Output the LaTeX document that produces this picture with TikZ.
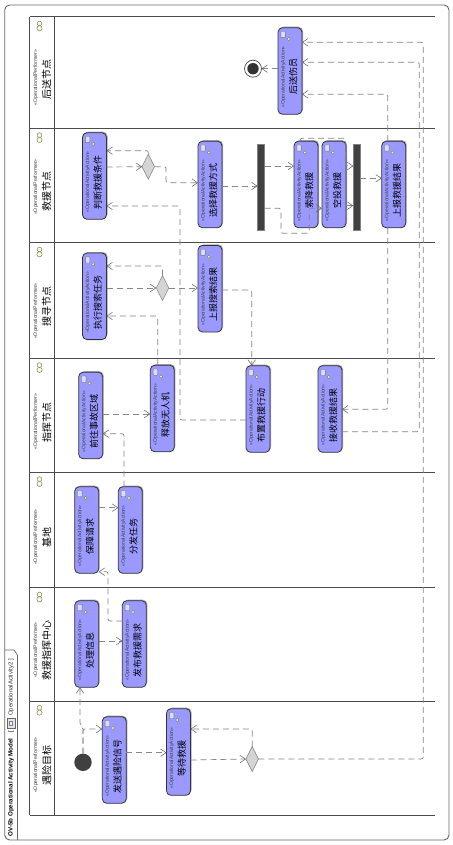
\documentclass[tikz,border=0pt]{standalone}
\usepackage{fontspec}
\setmainfont{Liberation Sans}
\newfontfamily\cjk{Noto Sans CJK SC}
\usetikzlibrary{arrows.meta,shapes.geometric,shadows}
\definecolor{actfill}{HTML}{9999FF}
\definecolor{edgegray}{HTML}{858585}
\tikzset{
  x=1pt,y=-1pt,
  actbox/.style={draw=black!80,line width=.8pt,fill=actfill,rounded corners=4.5pt,minimum width=24pt,minimum height=86.6pt,inner sep=0pt,outer sep=0pt,
     general shadow={fill=black!35,shadow xshift=1pt,shadow yshift=1pt}},
  stereo/.style={rotate=90,font=\fontsize{5}{6}\selectfont,text=black!75,inner sep=0pt},
  actname/.style={rotate=90,font=\cjk\fontsize{9}{10}\selectfont,inner sep=0pt},
  lanest/.style={rotate=90,font=\fontsize{5.2}{6}\selectfont,text=black!75,inner sep=0pt},
  lanename/.style={rotate=90,font=\cjk\fontsize{10}{12}\selectfont,inner sep=0pt},
  laneline/.style={draw=black!70,line width=.9pt},
  flow/.style={draw=edgegray,line width=.7pt,dash pattern=on 6pt off 4pt,rounded corners=2pt,
     arrows={-{Straight Barb[length=5.5pt,width=7.5pt,line width=.55pt,color=black!60]}}},
  dec/.style={diamond,shape aspect=.5,draw=black!45,fill=black!17,line width=.6pt,minimum width=12.5pt,minimum height=25pt,inner sep=0pt,outer sep=0pt},
  forkbar/.style={draw=black!50,fill=black!75,line width=.5pt,minimum width=7pt,minimum height=85.7pt,inner sep=0pt,outer sep=0pt},
}
\newcommand{\actnode}[4]{%
  \node[actbox] (#1) at (#2,#3) {};
  \node[stereo] (#1-st) at ([xshift=-6.7pt,yshift=-6pt]#1.center) {«OperationalActivityAction»};
  \node[actname] (#1-nm) at ([xshift=3.2pt,yshift=-6pt]#1.center) {#4};
  \begin{scope}[shift={(#1.north west)}]
    \draw[black!55,fill=actfill!35!white,line width=.4pt,rounded corners=.6pt] (2.8,3.8) rectangle (7.4,10);
    \draw[black!55,fill=yellow!50!white,line width=.3pt] (10.8,11.3) circle (1.6);
  \end{scope}}
\newcommand{\lanehead}[5]{%
  \node[lanest] (#1-st) at (35.7,#3) {«OperationalPerformer»};
  \node[lanename] (#1-nm) at (46.7,#4) {#5};
  \draw[black!60,fill=yellow!18!white,line width=.4pt] (39.5,#2+6.8) circle (2.4);
  \draw[black!60,fill=yellow!18!white,line width=.4pt] (39.5,#2+11.6) circle (2.6);}
\begin{document}
\begin{tikzpicture}
\useasboundingbox (0,0) rectangle (452,845);
\fill[white] (0,0) rectangle (452,845);
% frame
\draw[black!60,line width=.9pt,rounded corners=5pt] (4.7,5) rectangle (449,840);
\draw[black!60,line width=.7pt] (5,650) -- (14,650) -- (17.5,655) -- (17.5,840);
\node[rotate=90,anchor=west,inner sep=0pt,font=\bfseries\fontsize{6.2}{7}\selectfont] (ttl) at (11,836.5) {OV-5b Operational Activity Model};
\node[rotate=90,anchor=west,inner sep=0pt,font=\fontsize{6}{7}\selectfont] (ttlb) at (11,733) {[};
\draw[black!60,fill=blue!12,line width=.4pt] (7.2,718) rectangle (15.5,728);
\draw[black!50,fill=yellow!40,line width=.3pt] (9,725) rectangle (12,721);
\node[rotate=90,anchor=west,inner sep=0pt,font=\fontsize{6}{7}\selectfont,text=black!80] (ttlc) at (11,716) {OperationalActivity2 ]};
% lanes
\foreach \yy in {16.7,128.3,242.7,358.3,472.3,587.7,701,815}
  \draw[laneline] (29.7,\yy) -- (435,\yy);
\draw[laneline] (29.7,16.7) -- (29.7,815);
\draw[laneline] (54.3,16.7) -- (54.3,815);
\lanehead{lpost}{16.7}{77.5}{80}{后送节点}
\lanehead{lres}{128.3}{187}{191.5}{救援节点}
\lanehead{lsea}{242.7}{311}{306}{搜寻节点}
\lanehead{lcmd}{358.3}{421.5}{422}{指挥节点}
\lanehead{lbase}{472.3}{537}{537}{基地}
\lanehead{lcen}{587.7}{650}{650}{救援指挥中心}
\lanehead{ltar}{701}{765}{765}{遇险目标}
% activities
\actnode{post}{290}{71}{后送伤员}
\actnode{judge}{94.5}{176}{判断救援条件}
\actnode{choose}{210}{184.5}{选择救援方式}
\actnode{rope}{306}{184.5}{索降救援}
\actnode{drop}{334}{184.5}{空投救援}
\actnode{repres}{393.7}{184.5}{上报救援结果}
\actnode{exec}{94.5}{296.3}{执行搜索任务}
\actnode{repsea}{210}{288.7}{上报搜索结果}
\actnode{go}{90.7}{415.5}{前往事故区域}
\actnode{uav}{162.3}{408.5}{释放无人机}
\actnode{deploy}{258}{409}{布置救援行动}
\actnode{recv}{330}{409}{接收救援结果}
\actnode{guar}{86.7}{530}{保障请求}
\actnode{disp}{130.3}{530}{分发任务}
\actnode{proc}{86.7}{644}{处理信息}
\actnode{pub}{134.3}{644}{发布救援需求}
\actnode{sos}{114.3}{760}{发送遇险信号}
\actnode{wait}{178.5}{752}{等待救援}
% control nodes
\node[circle,fill=black!75,minimum size=17.4pt,inner sep=0pt,outer sep=0pt] (init) at (83,762.3) {};
\node[circle,draw=black!70,fill=white,line width=.7pt,minimum size=17pt,inner sep=0pt,outer sep=0pt] (fin) at (253,68.7) {};
\node[circle,fill=black!80,minimum size=11.4pt,inner sep=0pt] (finin) at (253,68.7) {};
\node[dec] (d1) at (148.3,166.7) {};
\node[dec] (d2) at (162.5,288) {};
\node[dec] (d3) at (252.2,759) {};
\node[forkbar] (fork) at (261,187.2) {};
\node[forkbar] (join) at (356.8,187.2) {};
% flows
\draw[flow] (init.north) -- (83,727) -- (80,725) -- (proc.south -| 80,0);
\draw[flow] (init.north) -- (83,729) -- (sos.west |- 0,729);
\draw[flow] (sos.east |- 0,752.7) -- (wait.west |- 0,752.7);
\draw[flow] (wait.east |- 0,760) -- (d3.west);
\draw[flow] (d3.north) -- (252.2,729) -- (wait.east |- 0,729);
\draw[flow] (d3.east) -- (423.3,759) -- (423.3,42.3) -- (post.east |- 0,42.3);
\draw[flow] (proc.east |- 0,641) -- (pub.west |- 0,641);
\draw[flow] (pub.west |- 0,621) -- (108,621) -- (108,571.7) -- (guar.east |- 0,571.7);
\draw[flow] (guar.east |- 0,507.7) -- (disp.west |- 0,507.7);
\draw[flow] (disp.north -| 124,0) -- (124,433.7) -- (go.east |- 0,433.7);
\draw[flow] (go.east |- 0,414) -- (uav.west |- 0,414);
\draw[flow] (uav.north -| 157.7,0) -- (157.7,316) -- (exec.east |- 0,316);
\draw[flow] (deploy.west |- 0,420) -- (180,420) -- (180,206) -- (judge.east |- 0,206);
\draw[flow] (exec.east |- 0,288) -- (d2.west);
\draw[flow] (d2.north) -- (162.5,266) -- (exec.east |- 0,266);
\draw[flow] (d2.east) -- (repsea.west |- 0,288);
\draw[flow] (repsea.east |- 0,290) -- (251.7,290) -- (deploy.north -| 251.7,0);
\draw[flow] (judge.east |- 0,167) -- (d1.west);
\draw[flow] (d1.north) -- (148.3,150.7) -- (judge.east |- 0,150.7);
\draw[flow] (d1.east) -- (166,166.7) -- (166,182.7) -- (choose.west |- 0,182.7);
\draw[flow] (choose.east |- 0,186) -- (fork.west |- 0,186);
\draw[flow] (fork.east |- 0,166) -- (rope.west |- 0,166);
\draw[flow] (fork.east |- 0,208.3) -- (281,208.3) -- (281,233.3) -- (309.3,233.3) -- (309.3,208.3) -- (drop.west |- 0,208.3);
\draw[flow] (rope.north -| 300,0) -- (300,138.3) -- (345.8,138.3) -- (345.8,166) -- (join.west |- 0,166);
\draw[flow] (drop.east |- 0,205.7) -- (join.west |- 0,205.7);
\draw[flow] (join.east |- 0,178.3) -- (repres.west |- 0,178.3);
\draw[flow] (repres.north -| 387.7,0) -- (387.7,94.3) -- (post.east |- 0,94.3);
\draw[flow] (repres.south -| 387.7,0) -- (387.7,409.3) -- (recv.east |- 0,409.3);
\draw[flow] (recv.east |- 0,431.7) -- (419.3,431.7) -- (419.3,62.3) -- (post.east |- 0,62.3);
\draw[flow] (post.west |- 0,68.7) -- (fin.east);
\end{tikzpicture}
\end{document}
